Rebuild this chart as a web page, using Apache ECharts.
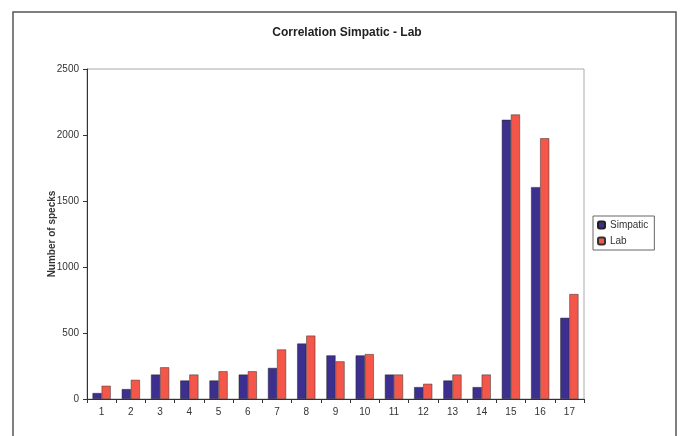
<!DOCTYPE html>
<html>
<head>
<meta charset="utf-8">
<script src="https://cdn.jsdelivr.net/npm/echarts@6/dist/echarts.min.js"></script>
<style>html,body{margin:0;padding:0;background:#fff}#c{width:680px;height:436px}</style>
</head>
<body>
<div id="c"></div>
<script>
var categories = ['1','2','3','4','5','6','7','8','9','10','11','12','13','14','15','16','17'];
var simpatic = [45, 75, 185, 140, 140, 185, 235, 420, 330, 330, 185, 90, 140, 90, 2115, 1605, 615];
var lab = [100, 145, 240, 185, 210, 210, 375, 480, 285, 340, 185, 115, 185, 185, 2155, 1975, 795];
var yTicks = [0, 500, 1000, 1500, 2000, 2500];

var chart = echarts.init(document.getElementById('c'));
var font = 'Liberation Sans, Arial, sans-serif';
chart.setOption({
  animation: false,
  backgroundColor: '#fff',
  title: {
    text: 'Correlation Simpatic - Lab',
    left: 342, top: 22, textAlign: 'center',
    textStyle: {fontFamily: font, fontSize: 12, fontWeight: 'bold', color: '#222'}
  },
  graphic: [{
    type: 'rect', shape: {x: 13, y: 12, width: 663, height: 440},
    style: {fill: null, stroke: '#555', lineWidth: 1.5}, silent: true
  }],
  legend: {
    orient: 'vertical', left: 593, top: 216,
    itemWidth: 7, itemHeight: 7, itemGap: 6,
    padding: [4, 6, 4, 4],
    borderColor: '#666', borderWidth: 1,
    textStyle: {fontFamily: font, fontSize: 10, color: '#333'},
    data: ['Simpatic', 'Lab']
  },
  grid: {
    left: 87, top: 69, width: 497, height: 330,
    show: true, borderColor: '#aaa', borderWidth: 1, backgroundColor: 'transparent'
  },
  xAxis: {
    type: 'category', data: categories,
    axisLine: {lineStyle: {color: '#333', width: 1}},
    axisTick: {show: true, length: 4, lineStyle: {color: '#333'}},
    axisLabel: {fontFamily: font, fontSize: 10, color: '#333', margin: 8}
  },
  yAxis: {
    type: 'value', min: 0, max: 2500, interval: 500,
    name: 'Number of specks', nameLocation: 'middle', nameGap: 30, nameRotate: 90,
    nameMoveOverlap: false,
    nameTextStyle: {fontFamily: font, fontSize: 10, fontWeight: 'bold', color: '#333'},
    axisLine: {show: true, lineStyle: {color: '#333', width: 1}},
    axisTick: {show: true, length: 4, lineStyle: {color: '#333'}},
    splitLine: {show: false},
    axisLabel: {fontFamily: font, fontSize: 10, color: '#333', margin: 8,
      formatter: function (v) { return yTicks.indexOf(v) >= 0 ? String(v) : ''; }}
  },
  series: [{
    name: 'Simpatic', type: 'bar', data: simpatic,
    barGap: '0%', barCategoryGap: '38%',
    itemStyle: {color: '#3d2f8f', borderColor: '#222', borderWidth: 0.5}
  }, {
    name: 'Lab', type: 'bar', data: lab,
    itemStyle: {color: '#f4564a', borderColor: '#333', borderWidth: 0.5}
  }]
});
</script>
</body>
</html>
